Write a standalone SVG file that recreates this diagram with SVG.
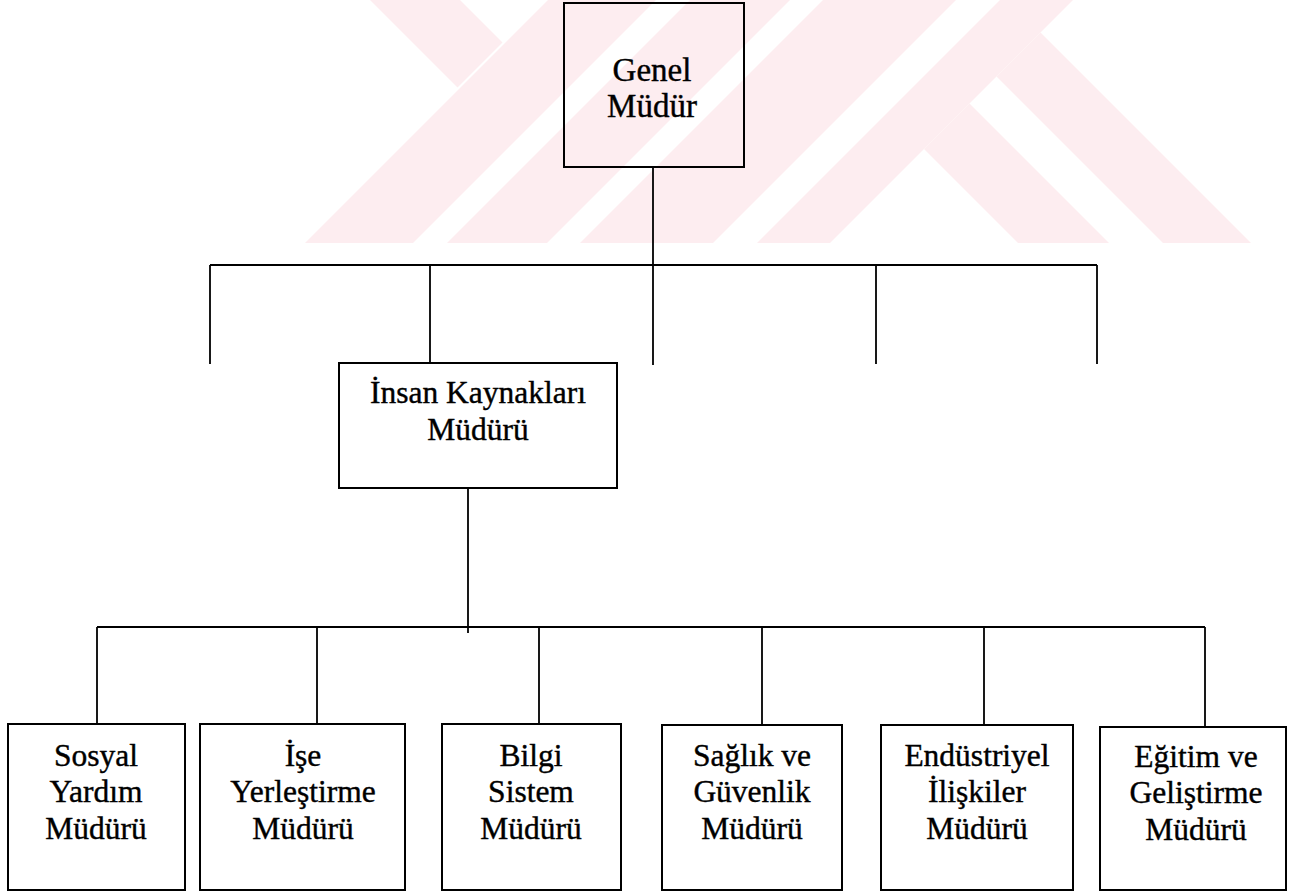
<svg xmlns="http://www.w3.org/2000/svg" width="1289" height="892" viewBox="0 0 1289 892">
<style>
.wm{fill:#fdedf0;stroke:none}
.box{fill:none;stroke:#000;stroke-width:2}
.ln{fill:none;stroke:#000;stroke-width:1.8}
text{font-family:"Liberation Serif","Times New Roman",serif;fill:#000;stroke:#000;stroke-width:0.4;text-anchor:middle}
.t{font-size:31.5px}
.tg{font-size:33px}
</style>
<rect width="1289" height="892" fill="#fff"/>
<g id="watermark">
<polygon class="wm" points="370,0 460,0 502.5,42.5 457.5,87.5"/>
<polygon class="wm" points="548,0 656,0 413,243 305,243"/>
<polygon class="wm" points="690,0 790,0 547,243 447,243"/>
<polygon class="wm" points="823,0 956,0 713,243 580,243"/>
<polygon class="wm" points="1000,0 1073,0 830,243 757,243"/>
<polygon class="wm" points="924,149 969.5,103.5 1109,243 1018,243"/>
<polygon class="wm" points="996.5,76.5 1040.5,32.5 1251,243 1163,243"/>
</g>
<g id="connectors">
<path class="ln" d="M653,167 V365 M210,265 H1097 M210,265 V364 M430,265 V363 M876,265 V364 M1097,265 V364"/>
<path class="ln" d="M468,488 V633 M97,627 H1205 M97,627 V724 M317,627 V724 M539,627 V724 M762,627 V725 M984,627 V725 M1205,627 V727"/>
</g>
<g id="genel-mudur">
<rect class="box" x="564" y="3" width="180" height="164"/>
<text class="tg" x="652" y="81">Genel</text>
<text class="tg" x="652" y="117">Müdür</text>
</g>
<g id="insan-kaynaklari">
<rect class="box" x="339" y="363" width="278" height="125"/>
<text class="t" x="478" y="403">İnsan Kaynakları</text>
<text class="t" x="478" y="440">Müdürü</text>
</g>
<g id="sosyal-yardim">
<rect class="box" x="8" y="724" width="177" height="166"/>
<text class="t" x="96" y="766">Sosyal</text>
<text class="t" x="96" y="802">Yardım</text>
<text class="t" x="96" y="839">Müdürü</text>
</g>
<g id="ise-yerlestirme">
<rect class="box" x="200" y="724" width="205" height="166"/>
<text class="t" x="303" y="766">İşe</text>
<text class="t" x="303" y="802">Yerleştirme</text>
<text class="t" x="303" y="839">Müdürü</text>
</g>
<g id="bilgi-sistem">
<rect class="box" x="442" y="724" width="179" height="166"/>
<text class="t" x="531" y="766">Bilgi</text>
<text class="t" x="531" y="802">Sistem</text>
<text class="t" x="531" y="839">Müdürü</text>
</g>
<g id="saglik-guvenlik">
<rect class="box" x="662" y="725" width="180" height="165"/>
<text class="t" x="752" y="766">Sağlık ve</text>
<text class="t" x="752" y="802">Güvenlik</text>
<text class="t" x="752" y="839">Müdürü</text>
</g>
<g id="endustriyel-iliskiler">
<rect class="box" x="881" y="725" width="192" height="165"/>
<text class="t" x="977" y="766">Endüstriyel</text>
<text class="t" x="977" y="802">İlişkiler</text>
<text class="t" x="977" y="839">Müdürü</text>
</g>
<g id="egitim-gelistirme">
<rect class="box" x="1100" y="727" width="186" height="163"/>
<text class="t" x="1196" y="767">Eğitim ve</text>
<text class="t" x="1196" y="803">Geliştirme</text>
<text class="t" x="1196" y="840">Müdürü</text>
</g>
</svg>
